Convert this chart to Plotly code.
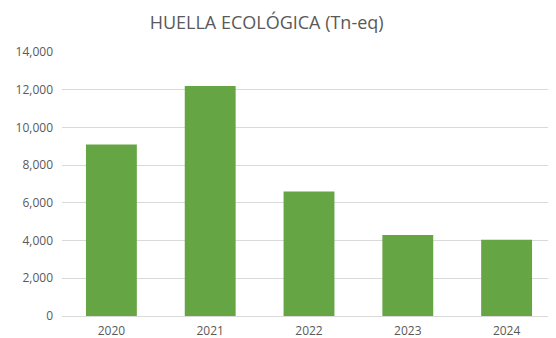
import plotly.graph_objects as go

years = ["2020", "2021", "2022", "2023", "2024"]
huella = [9100, 12200, 6600, 4300, 4050]

BAR_GREEN = "#66A544"
TEXT_GREY = "#595959"
GRID_GREY = "#D9D9D9"

fig = go.Figure(
    go.Bar(x=years, y=huella, marker=dict(color=BAR_GREEN, line=dict(width=0)))
)

# the page body adds an 8px margin, so the figure is sized 8px smaller
fig.update_layout(
    width=548, height=330,
    margin=dict(l=54, r=0, t=44, b=22),
    paper_bgcolor="white", plot_bgcolor="white",
    bargap=0.485,
    showlegend=False,
    font=dict(family="Open Sans", color=TEXT_GREY, size=12),
    title=dict(text="HUELLA ECOLÓGICA (Tn-eq)", x=0.472, xanchor="center",
               y=0.955, yanchor="middle",
               font=dict(family="Open Sans", size=18, color=TEXT_GREY)),
)
fig.update_yaxes(range=[0, 14000], dtick=2000, tickformat=",",
                 showgrid=True, gridcolor=GRID_GREY, gridwidth=1,
                 zeroline=True, zerolinecolor=GRID_GREY, zerolinewidth=1,
                 ticks="", ticklabelstandoff=8, showline=False)
fig.update_xaxes(showgrid=False, showline=False, ticks="", ticklabelstandoff=6,
                 automargin=False)

fig.write_html("out.html")
